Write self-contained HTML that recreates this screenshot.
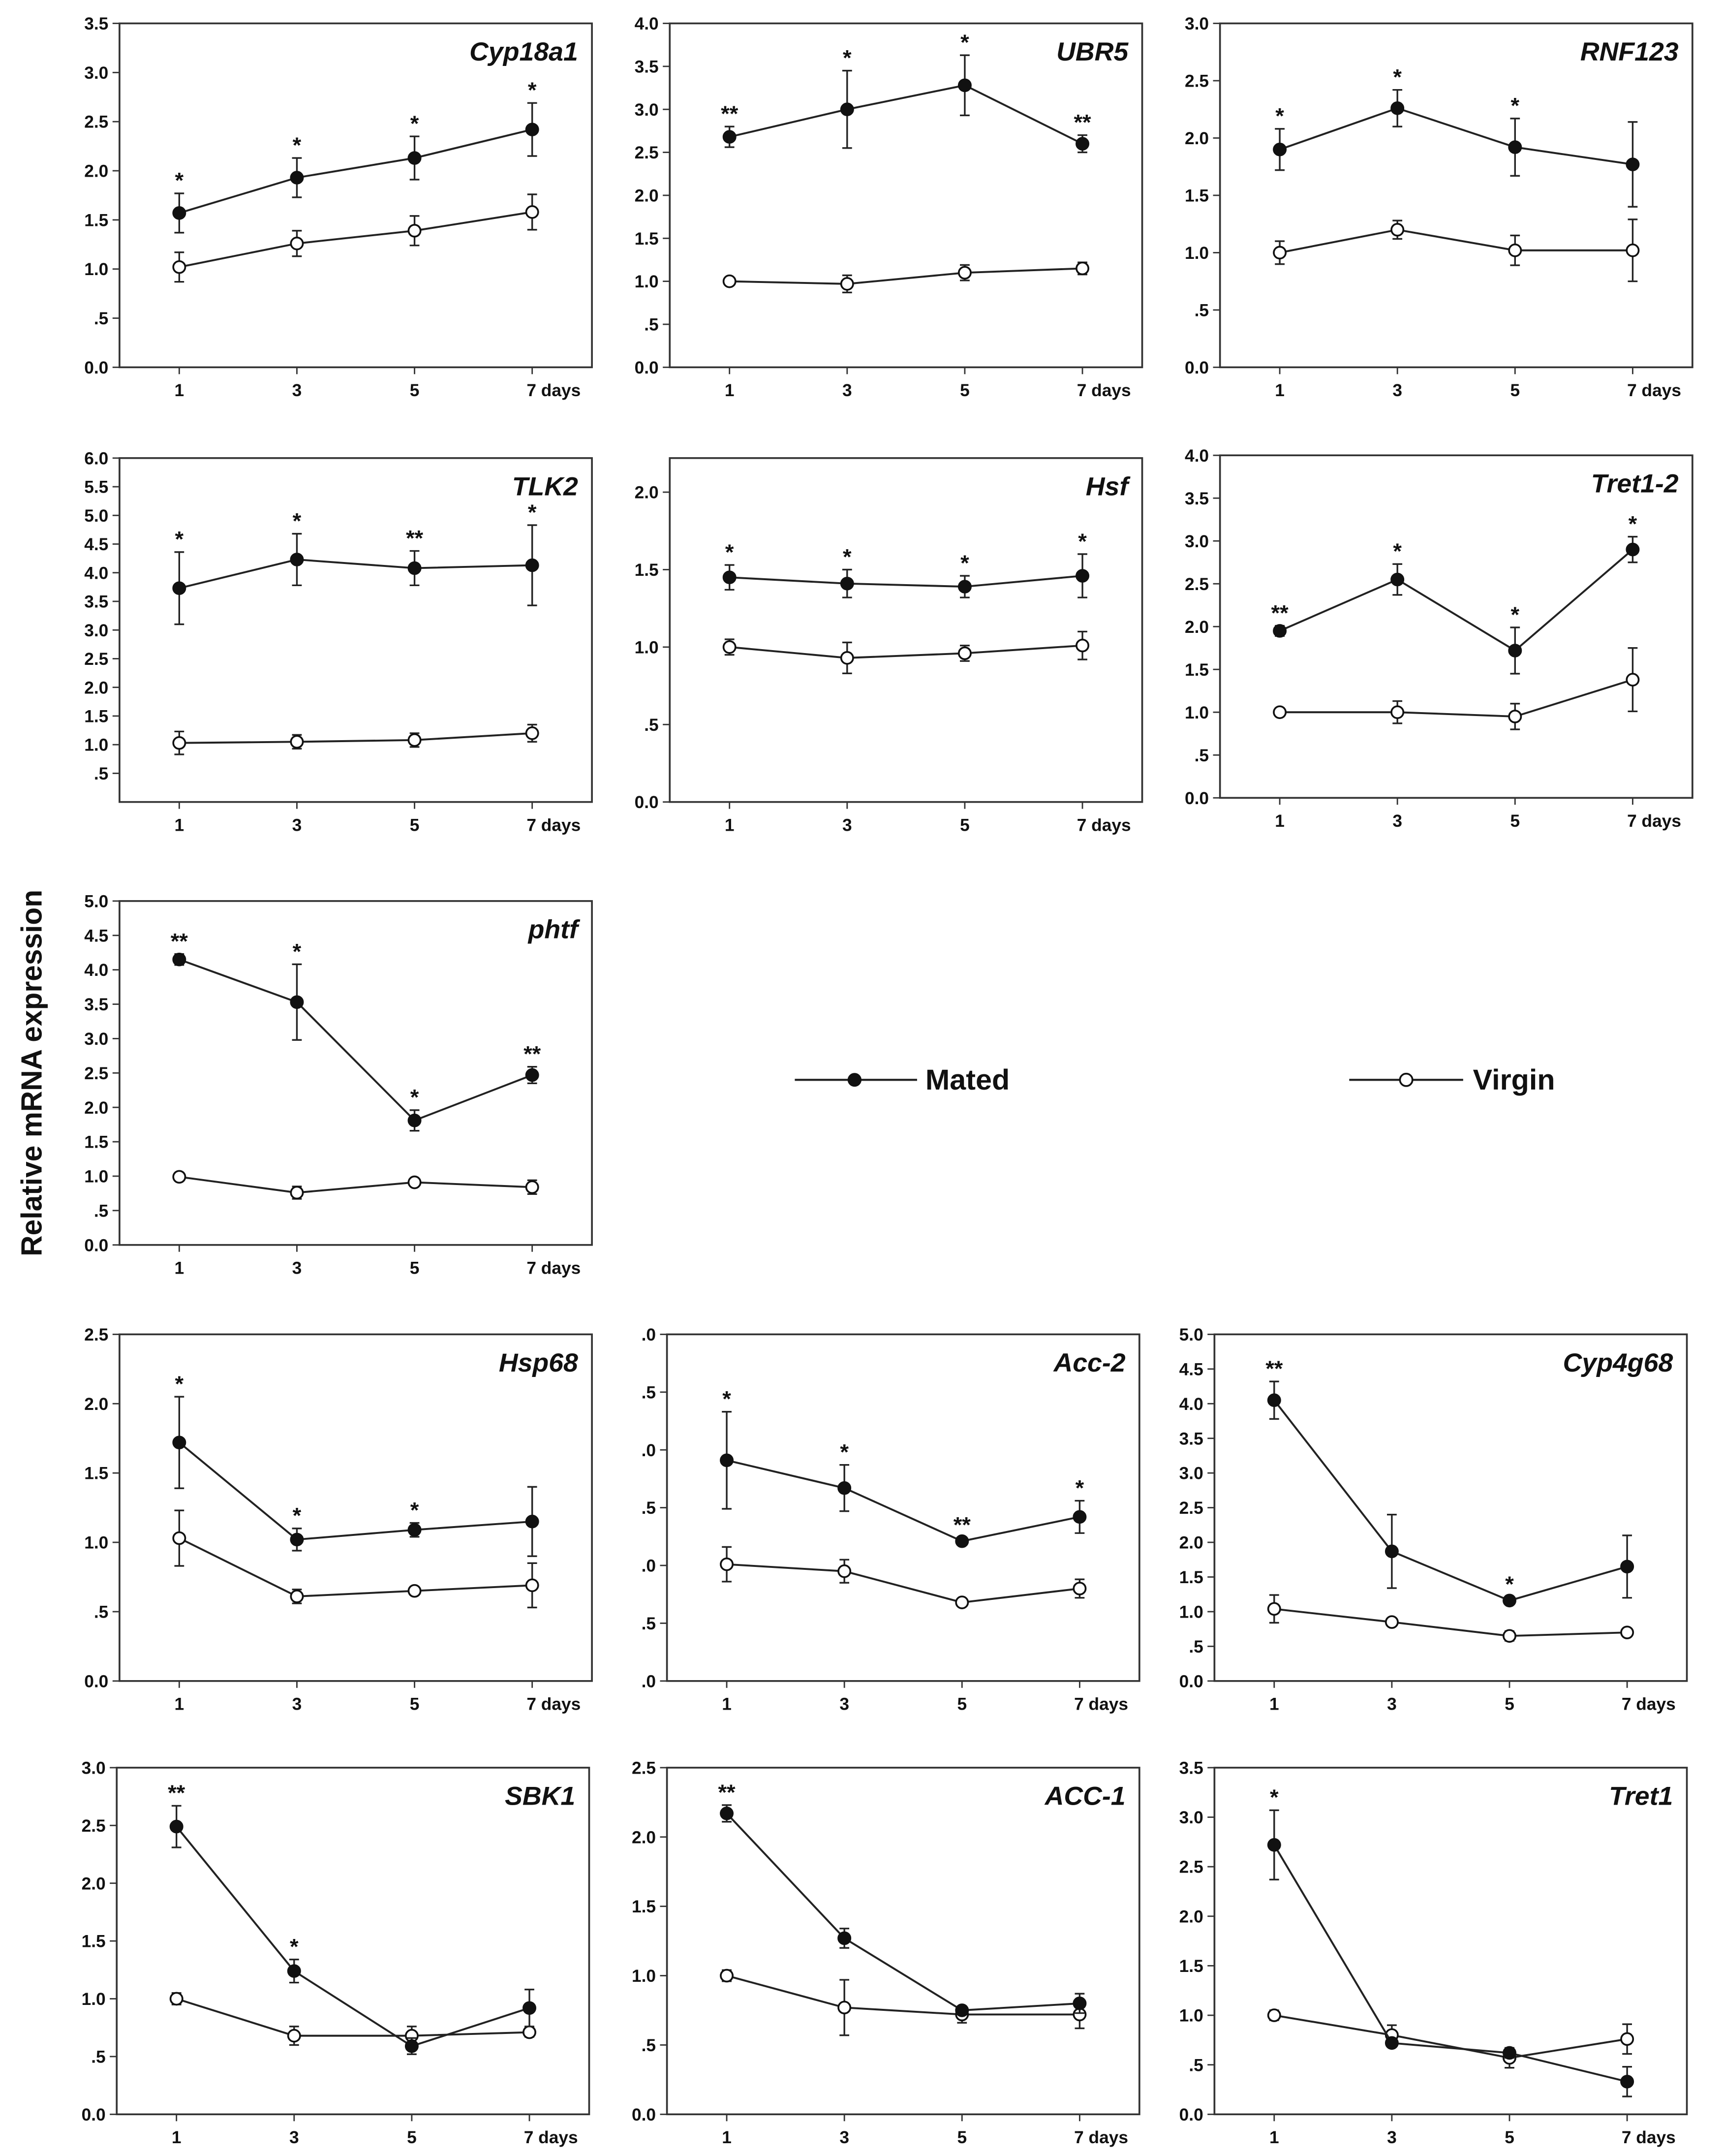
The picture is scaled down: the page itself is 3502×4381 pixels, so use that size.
<!DOCTYPE html>
<html><head><meta charset="utf-8"><style>
html,body{margin:0;padding:0;background:#fff;}
svg{display:block;}
text{font-family:"Liberation Sans",Arial,sans-serif;font-weight:bold;fill:#111;}
</style></head><body>
<svg id="fig" xmlns="http://www.w3.org/2000/svg" width="3502" height="4381" viewBox="0 0 1240 1567.3" preserveAspectRatio="none">
<rect width="1240" height="1567.3" fill="#fff"/>
<text transform="translate(30,780) rotate(-90)" text-anchor="middle" font-size="21">Relative mRNA expression</text>
<g>
<g>
<line x1="572" y1="785" x2="660" y2="785" stroke="#222" stroke-width="1.5"/>
<circle cx="615" cy="785" r="4.5" fill="#111" stroke="#111"/>
<text x="666" y="792" font-size="21">Mated</text></g>
<g>
<line x1="971" y1="785" x2="1053" y2="785" stroke="#222" stroke-width="1.5"/>
<circle cx="1012" cy="785" r="4.5" fill="#fff" stroke="#111" stroke-width="1.3"/>
<text x="1060" y="792" font-size="21">Virgin</text></g>
</g>
</svg>
<script>
const panelNames=["Cyp18a1","UBR5","RNF123","TLK2","Hsf","Tret1-2","phtf","Hsp68","Acc-2","Cyp4g68","SBK1","ACC-1","Tret1"];
const days=[1,3,5,7];
const yMaxes=[3.5,4.0,3.0,6.0,2.22,4.0,5.0,2.5,3.0,5.0,3.0,2.5,3.5];
const tickTops=[3.5,4.0,3.0,6.0,2.0,4.0,5.0,2.5,3.0,5.0,3.0,2.5,3.5];
const matedMeans=[
[1.57,1.93,2.13,2.42],[2.68,3.0,3.28,2.6],[1.9,2.26,1.92,1.77],
[3.73,4.23,4.08,4.13],[1.45,1.41,1.39,1.46],[1.95,2.55,1.72,2.9],
[4.15,3.53,1.81,2.47],[1.72,1.02,1.09,1.15],[1.91,1.67,1.21,1.42],
[4.05,1.87,1.16,1.65],[2.49,1.24,0.59,0.92],[2.17,1.27,0.75,0.8],[2.72,0.72,0.62,0.33]];
const matedErr=[
[0.2,0.2,0.22,0.27],[0.12,0.45,0.35,0.1],[0.18,0.16,0.25,0.37],
[0.63,0.45,0.3,0.7],[0.08,0.09,0.07,0.14],[0.06,0.18,0.27,0.15],
[0.08,0.55,0.15,0.12],[0.33,0.08,0.05,0.25],[0.42,0.2,0.03,0.14],
[0.27,0.53,0.05,0.45],[0.18,0.1,0.07,0.16],[0.06,0.07,0.03,0.07],[0.35,0.03,0.05,0.15]];
const virginMeans=[
[1.02,1.26,1.39,1.58],[1.0,0.97,1.1,1.15],[1.0,1.2,1.02,1.02],
[1.03,1.05,1.08,1.2],[1.0,0.93,0.96,1.01],[1.0,1.0,0.95,1.38],
[0.99,0.76,0.91,0.84],[1.03,0.61,0.65,0.69],[1.01,0.95,0.68,0.8],
[1.04,0.85,0.65,0.7],[1.0,0.68,0.68,0.71],[1.0,0.77,0.72,0.72],[1.0,0.8,0.57,0.76]];
const virginErr=[
[0.15,0.13,0.15,0.18],[0.04,0.1,0.09,0.07],[0.1,0.08,0.13,0.27],
[0.2,0.12,0.12,0.15],[0.05,0.1,0.05,0.09],[0.05,0.13,0.15,0.37],
[0.06,0.09,0.05,0.1],[0.2,0.05,0.03,0.16],[0.15,0.1,0.02,0.08],
[0.2,0.03,0.07,0.04],[0.05,0.08,0.08,0.04],[0.04,0.2,0.06,0.1],[0.05,0.1,0.1,0.15]];
const stars=[
["*","*","*","*"],["**","*","*","**"],["*","*","*",""],
["*","*","**","*"],["*","*","*","*"],["**","*","*","*"],
["**","*","*","**"],["*","*","*",""],["*","*","**","*"],
["**","","*",""],["**","*","",""],["**","","",""],["*","","",""]];
const xTickLabels=["1","3","5","7  days"];
// layout (not data)
const lefts=[86,482,878,86,482,878,86,86,480,874,84,480,874];
const tops=[17,17,17,333,333,331,655,970,970,970,1285,1285,1285];
const bottoms=[267,267,267,583,583,580,905,1222,1222,1222,1537,1537,1537];
const NS="http://www.w3.org/2000/svg";
const svg=document.getElementById('fig');
function mk(tag,attrs,parent){const e=document.createElementNS(NS,tag);for(const k in attrs)e.setAttribute(k,attrs[k]);parent.appendChild(e);return e;}
function fmt(v,i){let s=v.toFixed(1);if(i===8){s=s.slice(s.indexOf('.'));}else if(v>0&&v<1)s=s.slice(1);return s;}
panelNames.forEach((name,i)=>{
 const g=mk('g',{},svg);
 
 
 const L=lefts[i],T=tops[i],B=bottoms[i],W=340;
 const ys=v=>B-(v/yMaxes[i])*(B-T);
 const xs=d=>L+43+(d-1)*(254/6);
 const box=mk('rect',{x:L,y:T,width:W,height:B-T,fill:'none',stroke:'#333','stroke-width':1.3},g);
 
 
 for(let v=0;v<=tickTops[i]+1e-6;v+=0.5){
  if(i===3&&v===0)continue;
  const y=ys(v);
  mk('line',{x1:L-5,y1:y,x2:L,y2:y,stroke:'#333','stroke-width':1},g);
  const t=mk('text',{x:L-8,y:y+4.5,'text-anchor':'end','font-size':12.5},g);
  t.textContent=fmt(v,i);
  
  
 }
 days.forEach((d,j)=>{
  const x=xs(d);
  mk('line',{x1:x,y1:B,x2:x,y2:B+5,stroke:'#333','stroke-width':1},g);
  const t=mk('text',{x:j===3?x-4:x,y:B+21,'text-anchor':j===3?'start':'middle','font-size':12.5,'xml:space':'preserve'},g);
  t.textContent=xTickLabels[j];
  
  
 });
 const title=mk('text',{x:L+W-10,y:T+27,'text-anchor':'end','font-size':19,'font-style':'italic'},g);
 title.textContent=name;
 
 
 [[virginMeans,virginErr,'#fff','virgin'],[matedMeans,matedErr,'#111','mated']].forEach(([M,E,fill,lab])=>{
  const pts=days.map((d,j)=>xs(d)+','+ys(M[i][j])).join(' ');
  const pl=mk('polyline',{points:pts,fill:'none',stroke:'#222','stroke-width':1.4},g);
  
  
  days.forEach((d,j)=>{
   const x=xs(d),y=ys(M[i][j]),e=E[i][j];
   const y1=ys(M[i][j]+e),y2=ys(M[i][j]-e);
   const eb=mk('path',{d:`M${x},${y1}V${y2}M${x-3.5},${y1}H${x+3.5}M${x-3.5},${y2}H${x+3.5}`,stroke:'#222','stroke-width':1.2,fill:'none'},g);
   
   
   const c=mk('circle',{cx:x,cy:y,r:4.3,fill:fill,stroke:'#111','stroke-width':1.3},g);
   
   
   if(lab==='mated'&&stars[i][j]){
    const s=mk('text',{x:x,y:y1-4,'text-anchor':'middle','font-size':16},g);
    s.textContent=stars[i][j];
    
    
   }
  });
 });
});
</script>
</body></html>
